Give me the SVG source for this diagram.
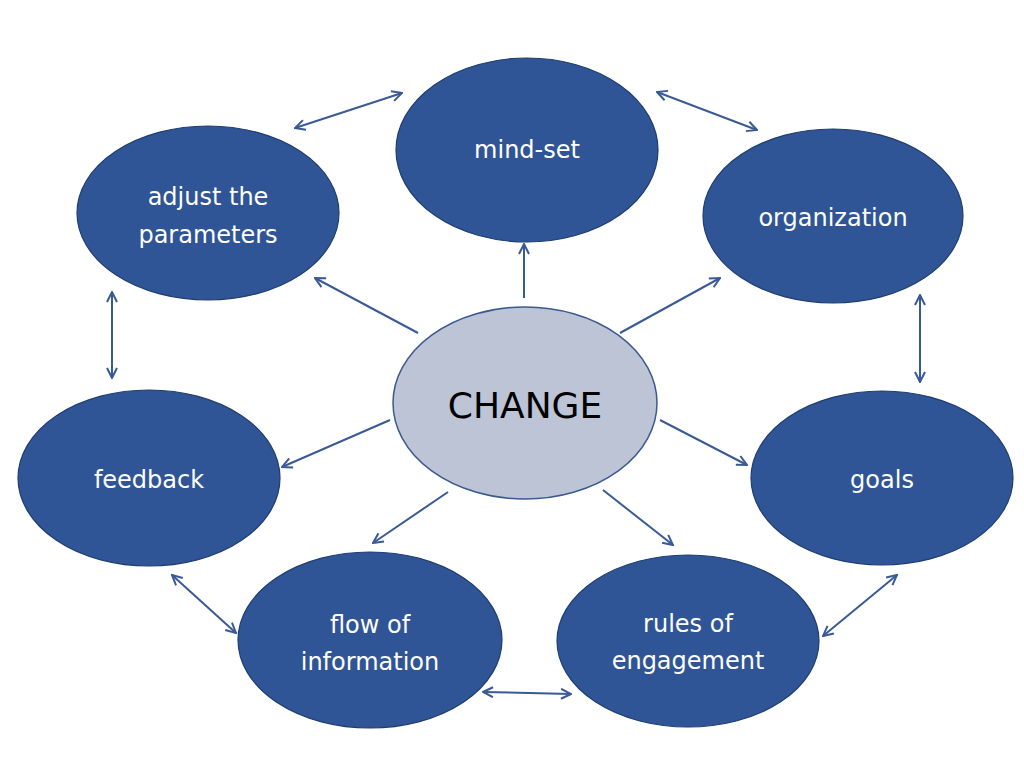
<svg xmlns="http://www.w3.org/2000/svg" width="1024" height="768" viewBox="0 0 1024 768">
<defs>
<marker id="ah" viewBox="0 0 12 12" refX="11" refY="6" markerWidth="12" markerHeight="12" markerUnits="userSpaceOnUse" orient="auto-start-reverse">
<path d="M1,1 L11,6 L1,11" fill="none" stroke="#3a5a96" stroke-width="2" stroke-linejoin="miter"/>
</marker>
</defs>
<style>
.outer{fill:#2f5596;stroke:#1f3d70;stroke-width:1.2}
.center{fill:#bcc4d6;stroke:#3a5a90;stroke-width:1.5}
.lbl{font-family:"DejaVu Sans","Liberation Sans",sans-serif;font-size:24px;fill:#ffffff;text-anchor:middle}
.clbl{font-family:"DejaVu Sans","Liberation Sans",sans-serif;font-size:36px;fill:#000000;text-anchor:middle}
.c{stroke:#3a5a96;stroke-width:2;fill:none}
.one{marker-end:url(#ah)}
.two{marker-start:url(#ah);marker-end:url(#ah)}
</style>
<rect width="1024" height="768" fill="#ffffff"/>
<g id="connectors">
<line class="c one" x1="524" y1="298" x2="524" y2="244"/>
<line class="c one" x1="418" y1="333" x2="315" y2="278"/>
<line class="c one" x1="620" y1="333" x2="720" y2="278"/>
<line class="c one" x1="390" y1="420" x2="282" y2="467"/>
<line class="c one" x1="660" y1="420" x2="747" y2="465"/>
<line class="c one" x1="448" y1="492" x2="373" y2="543"/>
<line class="c one" x1="603" y1="490" x2="673" y2="545"/>
<line class="c two" x1="295" y1="128" x2="402" y2="93"/>
<line class="c two" x1="657" y1="92" x2="757" y2="130"/>
<line class="c two" x1="112" y1="292" x2="112" y2="378"/>
<line class="c two" x1="920" y1="295" x2="920" y2="382"/>
<line class="c two" x1="172" y1="575" x2="236" y2="633"/>
<line class="c two" x1="897" y1="575" x2="823" y2="636"/>
<line class="c two" x1="483" y1="692" x2="571" y2="694"/>
</g>
<g id="node-mindset">
<ellipse class="outer" cx="527" cy="150" rx="131" ry="92"/>
<text class="lbl" x="527" y="158">mind-set</text>
</g>
<g id="node-adjust">
<ellipse class="outer" cx="208" cy="213" rx="131" ry="87"/>
<text class="lbl" x="208" y="205">adjust the</text>
<text class="lbl" x="208" y="243">parameters</text>
</g>
<g id="node-organization">
<ellipse class="outer" cx="833" cy="216" rx="130" ry="87"/>
<text class="lbl" x="833" y="226">organization</text>
</g>
<g id="node-feedback">
<ellipse class="outer" cx="149" cy="478" rx="131" ry="88"/>
<text class="lbl" x="149" y="488">feedback</text>
</g>
<g id="node-goals">
<ellipse class="outer" cx="882" cy="478" rx="131" ry="87"/>
<text class="lbl" x="882" y="488">goals</text>
</g>
<g id="node-flow">
<ellipse class="outer" cx="370" cy="640" rx="132" ry="88"/>
<text class="lbl" x="370" y="633">flow of</text>
<text class="lbl" x="370" y="670">information</text>
</g>
<g id="node-rules">
<ellipse class="outer" cx="688" cy="641" rx="131" ry="86"/>
<text class="lbl" x="688" y="632">rules of</text>
<text class="lbl" x="688" y="669">engagement</text>
</g>
<g id="node-change">
<ellipse class="center" cx="525" cy="403" rx="132" ry="96"/>
<text class="clbl" x="525" y="418">CHANGE</text>
</g>
</svg>
